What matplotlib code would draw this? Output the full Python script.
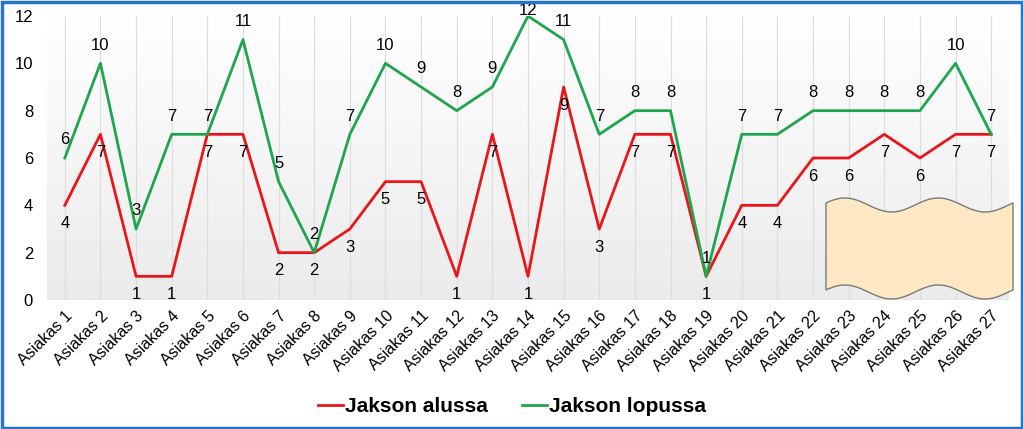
import matplotlib
matplotlib.use("Agg")
import matplotlib.pyplot as plt
import numpy as np
from matplotlib.patches import Rectangle, Polygon
from matplotlib.colors import LinearSegmentedColormap

plt.rcParams['font.family'] = ['Liberation Sans', 'DejaVu Sans']

categories = [f"Asiakas {i}" for i in range(1, 28)]
alussa = [4, 7, 1, 1, 7, 7, 2, 2, 3, 5, 5, 1, 7, 1, 9, 3, 7, 7, 1, 4, 4, 6, 6, 7, 6, 7, 7]
lopussa = [6, 10, 3, 7, 7, 11, 5, 2, 7, 10, 9, 8, 9, 12, 11, 7, 8, 8, 1, 7, 7, 8, 8, 8, 8, 10, 7]
yticks = [0, 2, 4, 6, 8, 10, 12]

RED = '#e8161b'
GREEN = '#1ea64e'

W, H = 1023, 429
fig = plt.figure(figsize=(W / 100, H / 100), dpi=100)
ax = fig.add_axes([47 / W, 1 - 300 / H, (1009 - 47) / W, (300 - 16) / H])

x = np.arange(len(categories))
ax.set_xlim(-0.5, len(categories) - 0.5)
ax.set_ylim(0, 12)

# gradient background
grad = np.linspace(0, 1, 256).reshape(-1, 1)
cmap = LinearSegmentedColormap.from_list('g', ['#ebebeb', '#ffffff'])
ax.imshow(grad, extent=[0, 1, 0, 1], transform=ax.transAxes, cmap=cmap,
          aspect='auto', origin='lower', zorder=0)

for xi in x:
    ax.axvline(xi, color='#dcdcdc', lw=0.8, zorder=1)
ax.axhline(0, color='#d0d0d0', lw=1, zorder=1)

ax.plot(x, alussa, color=RED, lw=2, label='Jakson alussa', zorder=3)
ax.plot(x, lopussa, color=GREEN, lw=2, label='Jakson lopussa', zorder=3)

ymax = max(yticks)
for xi, v in zip(x, alussa):
    ax.annotate(str(v), (xi, v), xytext=(0, -13), textcoords='offset points',
                ha='center', va='center', fontsize=12, color='black', zorder=4)
for xi, v in zip(x, lopussa):
    off = 13 if v < ymax else 4
    ax.annotate(str(v), (xi, v), xytext=(0, off), textcoords='offset points',
                ha='center', va='center', fontsize=12, color='black', zorder=4,
                annotation_clip=False)

for s in ax.spines.values():
    s.set_visible(False)
ax.set_xticks(x)
ax.set_xticklabels(categories, rotation=45, ha='right', rotation_mode='anchor',
                   fontsize=11.5)
ax.set_yticks(yticks)
ax.set_yticklabels([str(t) for t in yticks], fontsize=12)
ax.tick_params(axis='both', length=0)
ax.tick_params(axis='y', pad=10)
ax.tick_params(axis='x', pad=6)

leg = fig.legend(loc='center', bbox_to_anchor=(512 / W, 1 - 407 / H), ncol=2,
                 frameon=False, prop={'weight': 'bold', 'size': 15},
                 handlelength=1.2, handletextpad=0.1, columnspacing=1.6)

# wave decorative shape (pixel coords -> figure coords)
xs = np.linspace(826, 1013, 200)
ph = (xs - 826) / (1013 - 826) * 4 * np.pi
top = 205 - 7 * np.sin(ph + 0.3)
bot = 292 - 7 * np.sin(ph + 0.3)
pts = np.vstack([np.column_stack([xs, top]), np.column_stack([xs[::-1], bot[::-1]])])
pts_fig = np.column_stack([pts[:, 0] / W, 1 - pts[:, 1] / H])
fig.patches.append(Polygon(pts_fig, closed=True, transform=fig.transFigure,
                           facecolor='#fde8c3', edgecolor='#7a7a7a', lw=1, zorder=5))

# blue border
fig.patches.append(Rectangle((1.5 / W, 1.5 / H), 1 - 3 / W, 1 - 3 / H,
                             transform=fig.transFigure, fill=False,
                             edgecolor='#2a74c4', lw=2.5, zorder=10))

fig.savefig('out.png', dpi=100)
